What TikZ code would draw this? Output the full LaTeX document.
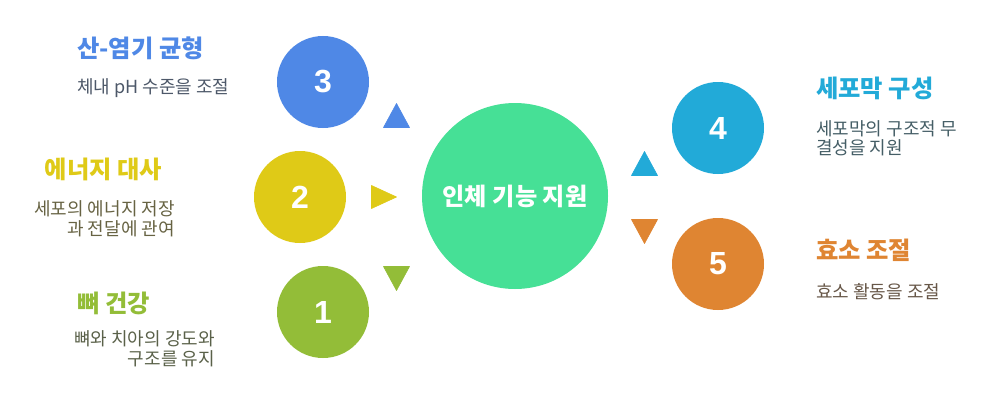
\documentclass[tikz,border=0pt]{standalone}
\usepackage{fontspec}
\setmainfont{Noto Sans CJK KR}
\newfontfamily\numfont{Liberation Sans}
\definecolor{cblue}{HTML}{4F88E6}
\definecolor{cyellow}{HTML}{DFCA17}
\definecolor{cgreen}{HTML}{93BD38}
\definecolor{ccyan}{HTML}{22AAD8}
\definecolor{corange}{HTML}{DF8532}
\definecolor{ccenter}{HTML}{46E096}
\definecolor{dgray}{HTML}{4D4D4D}
\begin{document}
\begin{tikzpicture}[x=1pt,y=-1pt,
  numcirc/.style={circle, fill=#1, draw=none, minimum size=92pt, inner sep=0pt, text=white, font=\numfont\bfseries\fontsize{32}{32}\selectfont},
  titletext/.style={font=\bfseries\fontsize{24.3}{28}\selectfont, inner sep=0pt, text=#1},
  desctext/.style={font=\fontsize{18}{20}\selectfont, inner sep=0pt, text=#1!18!dgray},
  tri/.style={fill=#1, draw=#1, line join=round, line width=0.6pt}]
\useasboundingbox (0,0) rectangle (987,396);
\fill[white] (0,0) rectangle (987,396);

% central circle
\node[circle, fill=ccenter, minimum size=186pt, inner sep=0pt, text=white,
      font=\bfseries\fontsize{24.2}{28}\selectfont] (center) at (515,196) {인체 기능 지원};

% numbered circles
\node[numcirc=cblue] (c3) at (323,82) {3};
\node[numcirc=cyellow] (c2) at (300,197) {2};
\node[numcirc=cgreen] (c1) at (323,312) {1};
\node[numcirc=ccyan] (c4) at (718,128) {4};
\node[numcirc=corange] (c5) at (718,264) {5};

% triangles
\filldraw[tri=cblue] (383.5,127.5) -- (409.5,127.5) -- (396.5,103.5) -- cycle;
\filldraw[tri=cyellow] (371.5,185.5) -- (371.5,208.5) -- (396.5,197) -- cycle;
\filldraw[tri=cgreen] (383.5,266.5) -- (409.5,266.5) -- (396.5,290.5) -- cycle;
\filldraw[tri=ccyan] (631.5,175.5) -- (657.5,175.5) -- (644.5,151.5) -- cycle;
\filldraw[tri=corange] (631.5,219.5) -- (657.5,219.5) -- (644.5,243.5) -- cycle;

% texts group 3
\node[titletext=cblue, anchor=west] (t3) at (77,48) {산-염기 균형};
\node[desctext=cblue, anchor=west] (d3) at (77,88) {체내 pH 수준을 조절};

% texts group 2
\node[titletext=cyellow] (t2) at (103.5,169) {에너지 대사};
\node[desctext=cyellow, anchor=east, align=right] (d2) at (175,219) {세포의 에너지 저장\\과 전달에 관여};

% texts group 1
\node[titletext=cgreen, anchor=west] (t1) at (77,303) {뼈 건강};
\node[desctext=cgreen, anchor=east, align=right] (d1) at (215,348.5) {뼈와 치아의 강도와\\구조를 유지};

% texts group 4
\node[titletext=ccyan, anchor=west] (t4) at (816,88) {세포막 구성};
\node[desctext=ccyan, anchor=west, align=left, font=\fontsize{18}{19}\selectfont] (d4) at (816,138) {세포막의 구조적 무\\결성을 지원};

% texts group 5
\node[titletext=corange, anchor=west] (t5) at (816,250) {효소 조절};
\node[desctext=corange, anchor=west] (d5) at (816,292) {효소 활동을 조절};
\end{tikzpicture}
\end{document}
